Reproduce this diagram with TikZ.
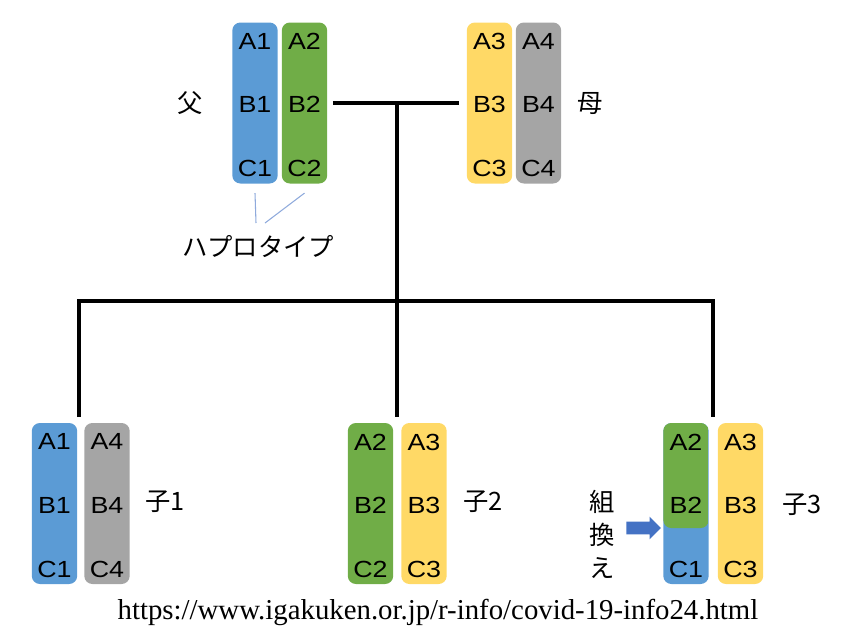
\documentclass[tikz,border=0pt]{standalone}
\usepackage{fontspec}
\setmainfont{Liberation Sans}
\newfontfamily\genefont[FakeStretch=1.15]{Liberation Sans}
\newfontfamily\jpfont{Noto Sans CJK JP}
\newfontfamily\urlfont{Liberation Serif}
\usetikzlibrary{positioning,shapes.arrows}

\definecolor{hapblue}{HTML}{5B9BD5}
\definecolor{hapgreen}{HTML}{70AD47}
\definecolor{hapyellow}{HTML}{FFD966}
\definecolor{hapgray}{HTML}{A5A5A5}
\definecolor{arrowblue}{HTML}{4472C4}
\definecolor{hapline}{HTML}{8FAADC}

% one chromosome: [extra options]{name}{centre}{colour}{A}{B}{C}
\newcommand{\chromosome}[7][]{%
  \node[chromo, fill=#4, #1] (#2) at (#3) {};
  \node[gene, below=8.2pt of #2.north] (#2a) {#5};
  \node[gene] (#2b) at ([yshift=-1.3pt]#2.center) {#6};
  \node[gene, above=5pt of #2.south] (#2c) {#7};
}

\begin{document}
\begin{tikzpicture}[x=0.75pt, y=-0.75pt,
    chromo/.style={rounded corners=6pt, minimum width=34pt,
      minimum height=120.75pt, inner sep=0pt},
    gene/.style={font=\genefont\fontsize{17.5}{19}\selectfont, inner sep=0pt},
    jp/.style={font=\jpfont\fontsize{19}{21}\selectfont, inner sep=0pt},
    link/.style={line width=2.3pt},
    hapstroke/.style={hapline, line width=0.8pt}]

    \useasboundingbox (0,0) rectangle (860,640);

    % --- Parents ---
    \chromosome{f1}{255,103}{hapblue}{A1}{B1}{C1}
    \chromosome{f2}{304.5,103}{hapgreen}{A2}{B2}{C2}
    \chromosome{m1}{489.5,103}{hapyellow}{A3}{B3}{C3}
    \chromosome{m2}{538.5,103}{hapgray}{A4}{B4}{C4}

    \node[jp] (father) at (190,103) {父};
    \node[jp] (mother) at (590,104) {母};

    % --- Haplotype note ---
    \node[jp] (haplo) at (258,247) {ハプロタイプ};
    \coordinate (hapA) at (256,223);
    \coordinate (hapB) at (265,223);
    \draw[hapstroke] ([yshift=-7pt]f1.south) -- (hapA);
    \draw[hapstroke] ([yshift=-7pt]f2.south) -- (hapB);

    % --- Children ---
    \chromosome{k1}{54.5,503.5}{hapblue}{A1}{B1}{C1}
    \chromosome{k2}{107,503.5}{hapgray}{A4}{B4}{C4}
    \chromosome{k3}{370.5,503.5}{hapgreen}{A2}{B2}{C2}
    \chromosome{k4}{424,503.5}{hapyellow}{A3}{B3}{C3}
    \chromosome[path picture={\fill[hapgreen, rounded corners=6pt]
        (path picture bounding box.north west) rectangle
        ([yshift=-18.4pt]path picture bounding box.east);}]
      {k5}{686,503.5}{hapblue}{A2}{B2}{C1}
    \chromosome{k6}{740.5,503.5}{hapyellow}{A3}{B3}{C3}

    \node[jp] (child1) at (165,502) {子1};
    \node[jp] (child2) at (483,502) {子2};
    \node[jp] (child3) at (802,505) {子3};

    % --- Recombination ---
    \node[jp, align=center, font=\jpfont\fontsize{19}{24.75}\selectfont] (recomb) at (602,534) {組\\換\\え};
    \node[single arrow, fill=arrowblue, inner sep=0pt, inner ysep=4.5pt,
      minimum height=26pt, single arrow head extend=3.75pt,
      single arrow head indent=0pt] (shift) at (640.5,528) {};

    % --- Family tree lines ---
    \coordinate (join) at (397,103);
    \coordinate (split) at (397,301);
    \coordinate (drop1) at (79,417);
    \coordinate (drop2) at (397,417);
    \coordinate (drop3) at (713,417);
    \draw[link] ([xshift=4pt]f2.east) -- ([xshift=-5.5pt]m1.west);
    \draw[link] (join) -- (split);
    \draw[link] (drop1) |- (split) -| (drop3);
    \draw[link] (split) -- (drop2);

    % --- Source ---
    \node[font=\urlfont\fontsize{21.6}{24}\selectfont] (source) at (438,612)
      {https://www.igakuken.or.jp/r-info/covid-19-info24.html};

\end{tikzpicture}
\end{document}
